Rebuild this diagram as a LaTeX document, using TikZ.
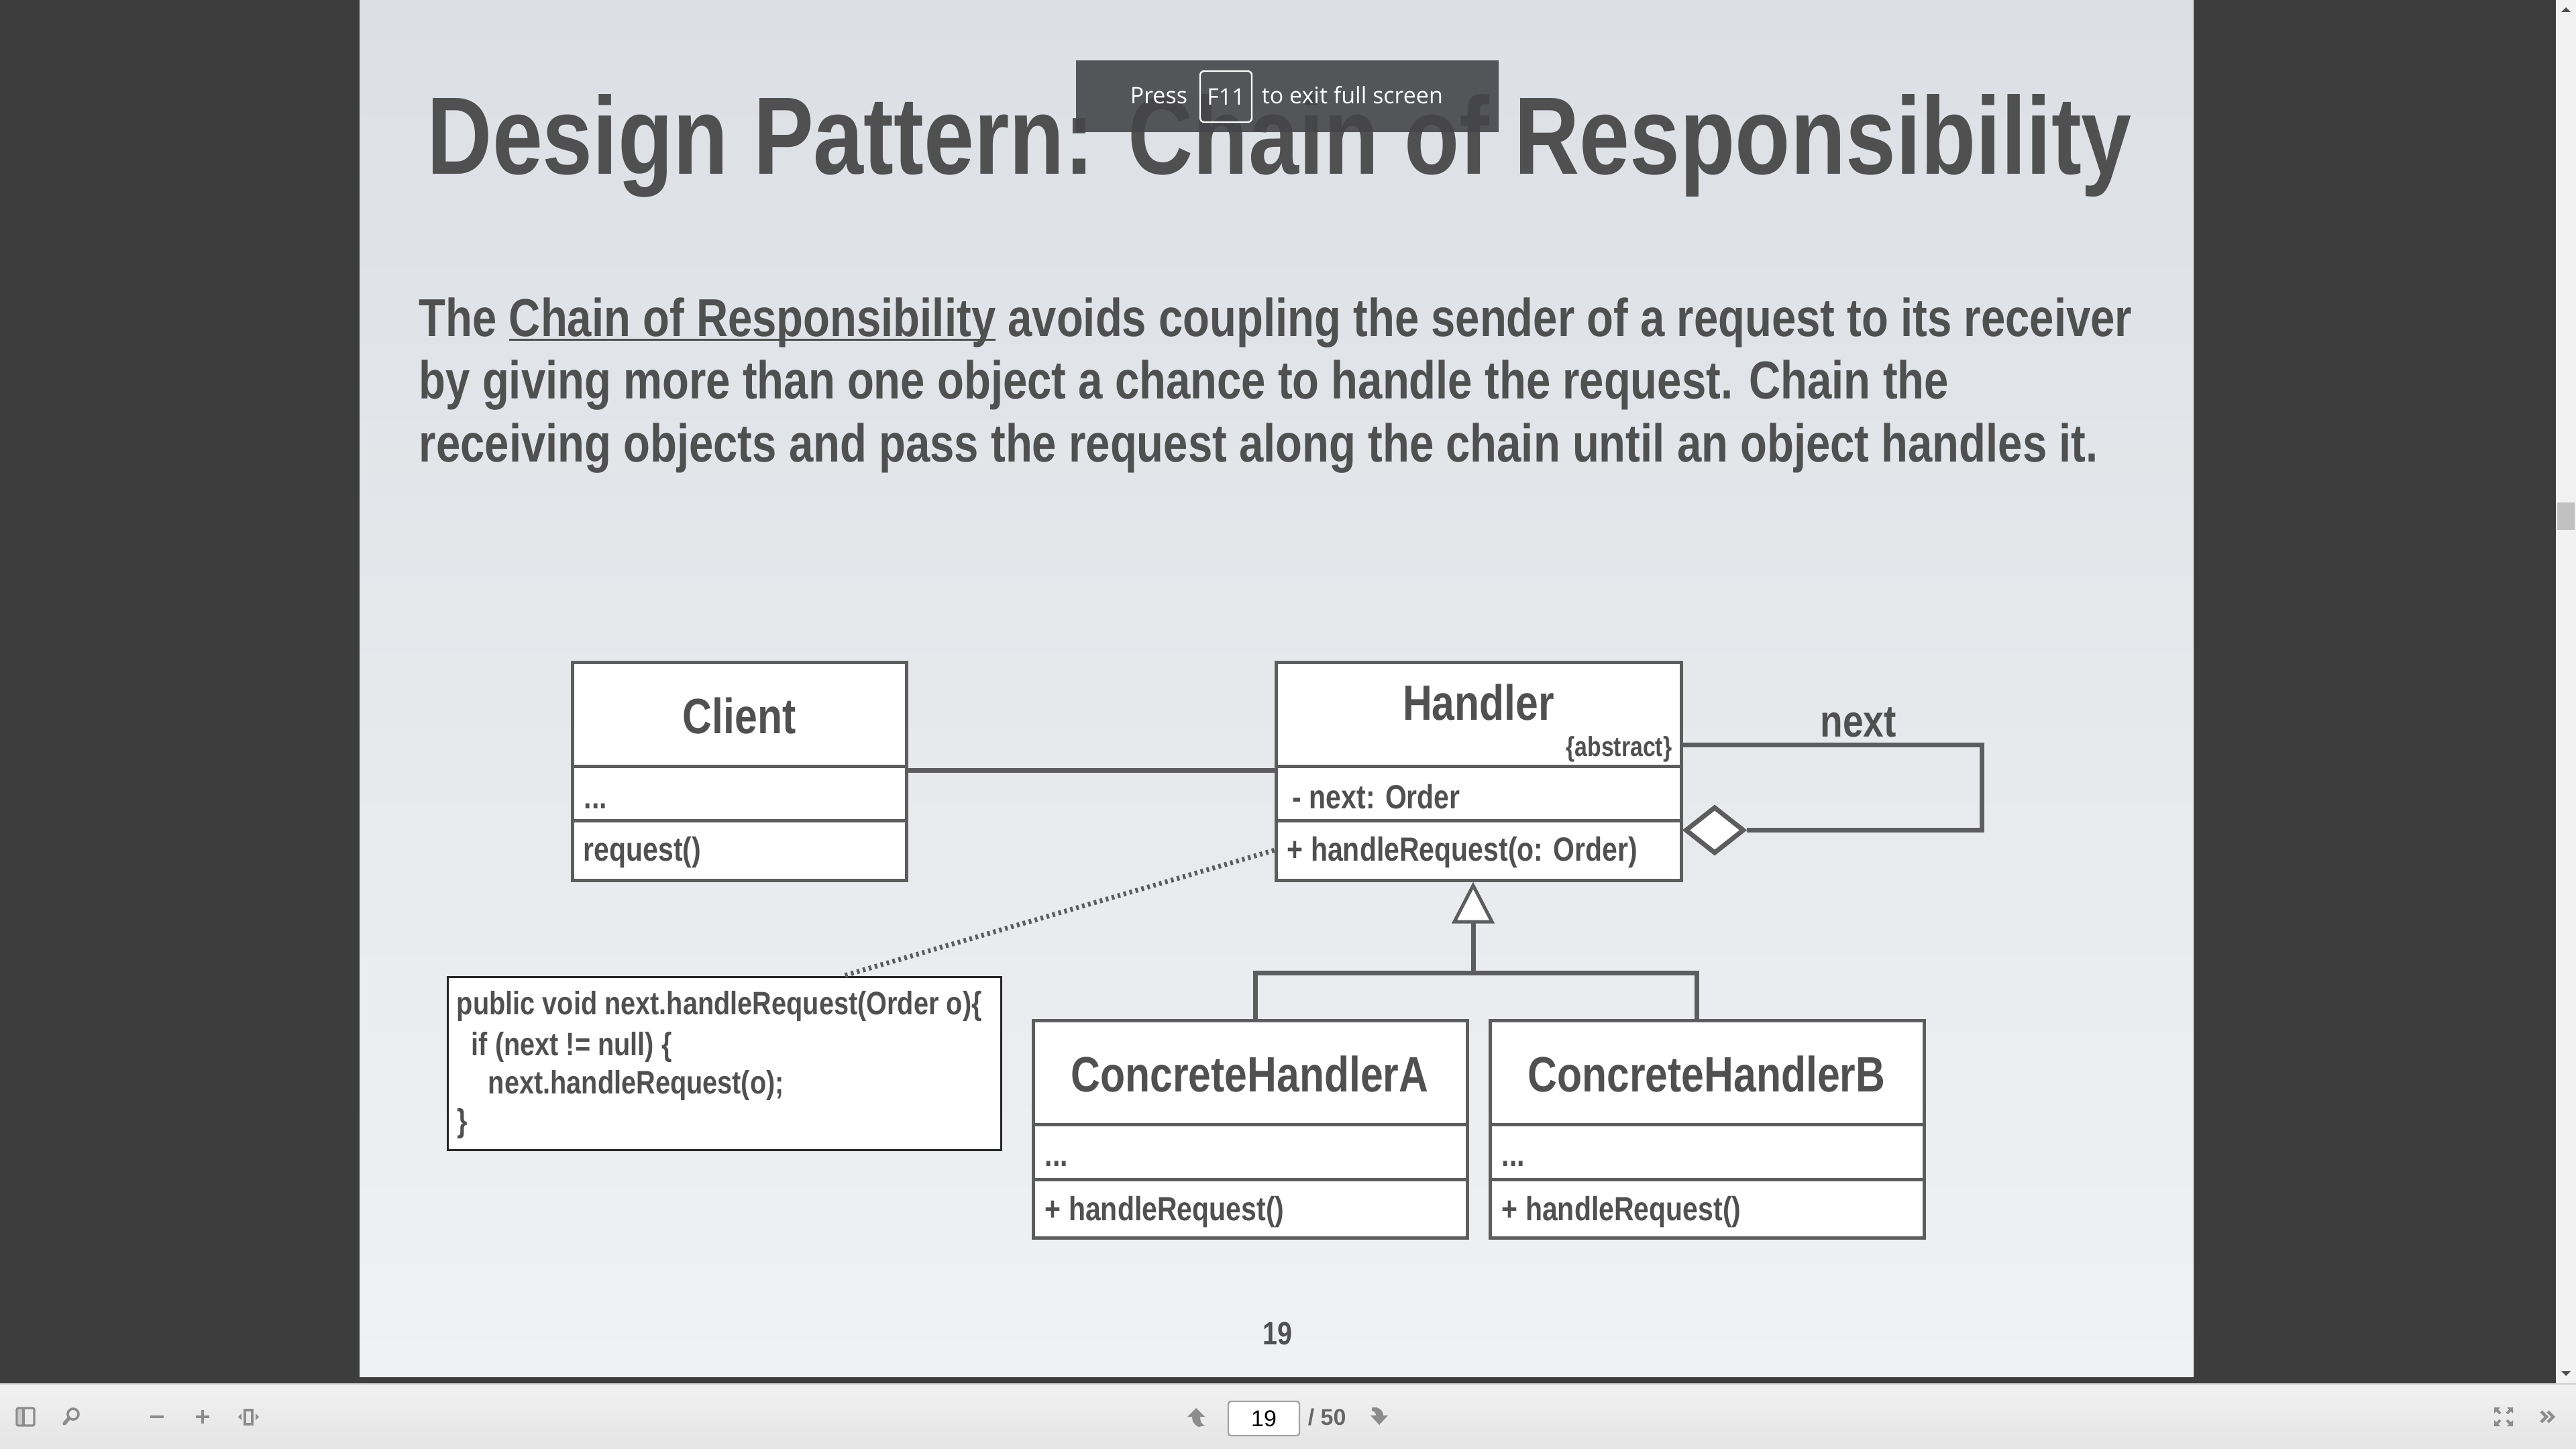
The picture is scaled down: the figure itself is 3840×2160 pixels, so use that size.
\documentclass[tikz,border=0pt]{standalone}
\usepackage{fontspec}
\usepackage{xcolor}
\usetikzlibrary{arrows.meta, positioning, fit, shapes.geometric}

\newfontfamily\slidefont{Liberation Sans}[FakeStretch=0.82]
\newfontfamily\uifont{Open Sans}
\newfontfamily\barfont{Liberation Sans}

\definecolor{inkgray}{HTML}{505050}
\definecolor{linegray}{HTML}{5D5D5D}
\definecolor{notegray}{HTML}{262626}
\definecolor{viewerdark}{HTML}{3D3D3D}
\definecolor{slidetop}{HTML}{DCDFE4}
\definecolor{slidebottom}{HTML}{F0F1F4}
\definecolor{scrollbg}{HTML}{F2F2F2}
\definecolor{thumbgray}{HTML}{C1C1C1}
\definecolor{arrowdark}{HTML}{505050}
\definecolor{barlight}{HTML}{F2F2F2}
\definecolor{bardark}{HTML}{E4E4E4}
\definecolor{barline}{HTML}{CFCFCF}
\definecolor{icongray}{HTML}{8C8C8C}
\definecolor{overlaygray}{HTML}{45464A}

% underlined link text of the slide
\newcommand{\ulink}[1]{\setbox0\hbox{#1}\rlap{\rule[-1.6pt]{\wd0}{0.9pt}}\box0\relax}

\tikzset{
	umlbox/.style={draw=linegray, line width=1.25pt, fill=white, inner sep=0pt},
	classname/.style={font=\slidefont\bfseries\fontsize{18.5pt}{20pt}\selectfont, text=inkgray, inner sep=0pt, anchor=base},
	member/.style={font=\slidefont\bfseries\fontsize{12.5pt}{14pt}\selectfont, text=inkgray, inner sep=0pt, anchor=base west},
	codeline/.style={font=\slidefont\bfseries\fontsize{12.1pt}{14pt}\selectfont, text=inkgray, inner sep=0pt, anchor=base west},
	bodytext/.style={font=\slidefont\bfseries\fontsize{19.9pt}{23pt}\selectfont, text=inkgray, inner sep=0pt, anchor=base west},
	titletext/.style={font=\slidefont\bfseries\fontsize{41.05pt}{46pt}\selectfont, text=inkgray, inner sep=0pt, anchor=base west},
	uitext/.style={font=\uifont\fontsize{8.5pt}{10pt}\selectfont, text=white, inner sep=0pt, anchor=base west},
	assoc/.style={draw=linegray, line width=1.75pt},
	noteline/.style={draw=linegray, line width=1.8pt, dash pattern=on 1pt off 1.3pt},
	aggdiamond/.style={diamond, draw=linegray, fill=white, line width=1.75pt, inner sep=0pt, minimum width=22pt, minimum height=17.5pt},
	icon/.style={icongray, line width=0.9pt}
}

\begin{document}
\begin{tikzpicture}[x=0.25pt, y=-0.25pt]
	\useasboundingbox (0,0) rectangle (3840,2160);
	% viewer window
	\fill[viewerdark] (0,0) rectangle (3810,2062);
	\shade[top color=slidetop, bottom color=slidebottom] (536,0) rectangle (3270,2052);
	\fill[scrollbg] (3810,0) rectangle (3840,2062);
	\fill[thumbgray] (3812,749) rectangle (3838,790);
	\fill[arrowdark] (3818,18) -- (3825,11) -- (3832,18) -- cycle;
	\fill[arrowdark] (3818,2044) -- (3832,2044) -- (3825,2051) -- cycle;
	\shade[top color=barlight, bottom color=bardark] (0,2062) rectangle (3840,2160);
	\draw[barline, line width=0.5pt] (0,2063) -- (3840,2063);

	% title and text
	\node[titletext] (title) at (636,260) {Design Pattern: Chain of Responsibility};
	\node[bodytext] (bodyA) at (624,502) {The \ulink{Chain of Responsibility} avoids coupling the sender of a request to its receiver};
	\node[bodytext] (bodyB) at (624,595) {by giving more than one object a chance to handle the request. Chain the};
	\node[bodytext] (bodyC) at (624,688) {receiving objects and pass the request along the chain until an object handles it.};

	% full screen hint
	\fill[overlaygray, opacity=0.9] (1604,90) rectangle (2234,197);
	\node[uitext] (press) at (1684,155) {Press};
	\node[draw=white, line width=0.6pt, rounded corners=1.5pt, minimum width=19.25pt, minimum height=19pt, inner sep=0pt,
		font=\uifont\fontsize{8.5pt}{10pt}\selectfont, text=white] (fkey) at (1827.5,144) {F11};
	\node[uitext] (exitmsg) at (1880,155) {to exit full screen};

	% classes
	\node[umlbox, fit={(853,987) (1351,1142)}] (clientname) {};
	\node[umlbox, fit={(853,1142) (1351,1223)}] (clientattr) {};
	\node[umlbox, fit={(853,1223) (1351,1312)}] (clientops) {};
	\node[umlbox, fit={(1902,987) (2506,1142)}] (handlername) {};
	\node[umlbox, fit={(1902,1142) (2506,1223)}] (handlerattr) {};
	\node[umlbox, fit={(1902,1223) (2506,1312)}] (handlerops) {};
	\node[umlbox, fit={(1540,1521) (2187,1676)}] (chaname) {};
	\node[umlbox, fit={(1540,1676) (2187,1758)}] (chaattr) {};
	\node[umlbox, fit={(1540,1758) (2187,1845)}] (chaops) {};
	\node[umlbox, fit={(2221,1521) (2868,1676)}] (chbname) {};
	\node[umlbox, fit={(2221,1676) (2868,1758)}] (chbattr) {};
	\node[umlbox, fit={(2221,1758) (2868,1845)}] (chbops) {};

	\node[classname] (clienttitle) at (1102,1093) {Client};
	\node[member] (clientdots) at (870,1205) {...};
	\node[member] (clientreq) at (869,1283) {request()};
	\node[classname] (handlertitle) at (2204,1073) {Handler};
	\node[member, anchor=base east, font=\slidefont\bfseries\fontsize{10.3pt}{12pt}\selectfont] (abstract) at (2493,1127) {\{abstract\}};
	\node[member] (handlernext) at (1926,1205) {- next: Order};
	\node[member] (handlerreq) at (1918,1283) {+ handleRequest(o: Order)};
	\node[classname] (chatitle) at (1863,1627) {ConcreteHandlerA};
	\node[member] (chadots) at (1557,1738) {...};
	\node[member] (chareq) at (1557,1819) {+ handleRequest()};
	\node[classname] (chbtitle) at (2544,1627) {ConcreteHandlerB};
	\node[member] (chbdots) at (2238,1738) {...};
	\node[member] (chbreq) at (2238,1819) {+ handleRequest()};

	% code note
	\node[draw=notegray, line width=0.75pt, fill=white, inner sep=0pt, fit={(667,1456) (1492,1714)}] (note) {};
	\node[codeline] (codeA) at (680,1512) {public void next.handleRequest(Order o)\{};
	\node[codeline] (codeB) at (702,1573) {if (next != null) \{};
	\node[codeline] (codeC) at (727,1630) {next.handleRequest(o);};
	\node[codeline] (codeD) at (681,1687) {\}};

	% connectors
	\draw[assoc] ([yshift=-1pt]clientname.south east) -- ([yshift=-1pt]handlername.south west);
	\node[aggdiamond, anchor=west] (agg) at ([yshift=7.5pt]handlerops.east) {};
	\coordinate (loopcorner) at (2954,1200);
	\draw[assoc] ([yshift=-11.6pt]handlername.east) -| (loopcorner) |- (agg.east);
	\node[classname, font=\slidefont\bfseries\fontsize{16.8pt}{18pt}\selectfont] (nextlabel) at (2770,1098) {next};
	\draw[noteline] (handlerops.west) -- ([xshift=44.5pt]note.north);
	\coordinate (junction) at (2196,1450);
	\draw[assoc] ([xshift=2pt]chaname.north) |- (junction) -| ([xshift=-3.75pt]chbname.north);
	\draw[assoc, -{Triangle[open, fill=white, length=15.5pt, width=15.75pt, line width=1.25pt]}] (junction) -- (junction |- handlerops.south);

	% page number
	\node[font=\slidefont\bfseries\fontsize{12pt}{14pt}\selectfont, text=inkgray, inner sep=0pt, anchor=base] (pageno) at (1904,2004) {19};

	% toolbar
	\draw[icon, line width=0.8pt, rounded corners=0.6pt] (25,2099) rectangle (51,2125);
	\fill[icongray!45] (27,2101) rectangle (34,2123);
	\draw[icon, line width=0.8pt] (35,2099) -- (35,2125);
	\draw[icon] (109,2108) circle[radius=2pt];
	\draw[icon, line width=1.3pt, line cap=round] (102,2115) -- (96,2122);
	\draw[icon, line width=1pt] (224,2112) -- (244,2112);
	\draw[icon, line width=1pt] (292,2112) -- (312,2112) (302,2102) -- (302,2122);
	\draw[icon, line width=0.8pt] (365,2102) rectangle (376,2123);
	\fill[icongray] (360,2107) -- (355,2112) -- (360,2117) -- cycle;
	\fill[icongray] (381,2107) -- (386,2112) -- (381,2117) -- cycle;
	\fill[icongray] (1770,2112) -- (1783,2099) -- (1796,2112) -- (1789,2112) .. controls (1789,2119) and (1791,2123) .. (1796,2125) -- (1787,2127) .. controls (1780,2124) and (1777,2119) .. (1777,2112) -- cycle;
	\node[draw=icongray!80, fill=white, rounded corners=1pt, line width=0.6pt, minimum width=26.5pt, minimum height=12.75pt, inner sep=0pt,
		font=\barfont\fontsize{8.5pt}{10pt}\selectfont, text=black] (pagefield) at (1884,2114.5) {19};
	\node[font=\barfont\bfseries\fontsize{8.5pt}{10pt}\selectfont, text=black!60, inner sep=0pt, anchor=base west] (pagetotal) at (1949,2124) {/ 50};
	\fill[icongray] (2045,2098) -- (2052,2098) .. controls (2058,2100) and (2062,2104) .. (2062,2110) -- (2069,2110) -- (2056,2124) -- (2043,2110) -- (2051,2110) .. controls (2051,2106) and (2049,2104) .. (2045,2103) -- cycle;
	\fill[icongray] (3718,2098) -- (3727,2098) -- (3718,2107) -- cycle;
	\fill[icongray] (3746,2098) -- (3737,2098) -- (3746,2107) -- cycle;
	\fill[icongray] (3718,2126) -- (3727,2126) -- (3718,2117) -- cycle;
	\fill[icongray] (3746,2126) -- (3737,2126) -- (3746,2117) -- cycle;
	\draw[icon, line width=1pt] (3720,2100) -- (3727,2107) (3744,2100) -- (3737,2107) (3720,2124) -- (3727,2117) (3744,2124) -- (3737,2117);
	\draw[icon, line width=1.1pt] (3788,2104) -- (3796,2112) -- (3788,2120) (3798,2104) -- (3806,2112) -- (3798,2120);
\end{tikzpicture}
\end{document}
